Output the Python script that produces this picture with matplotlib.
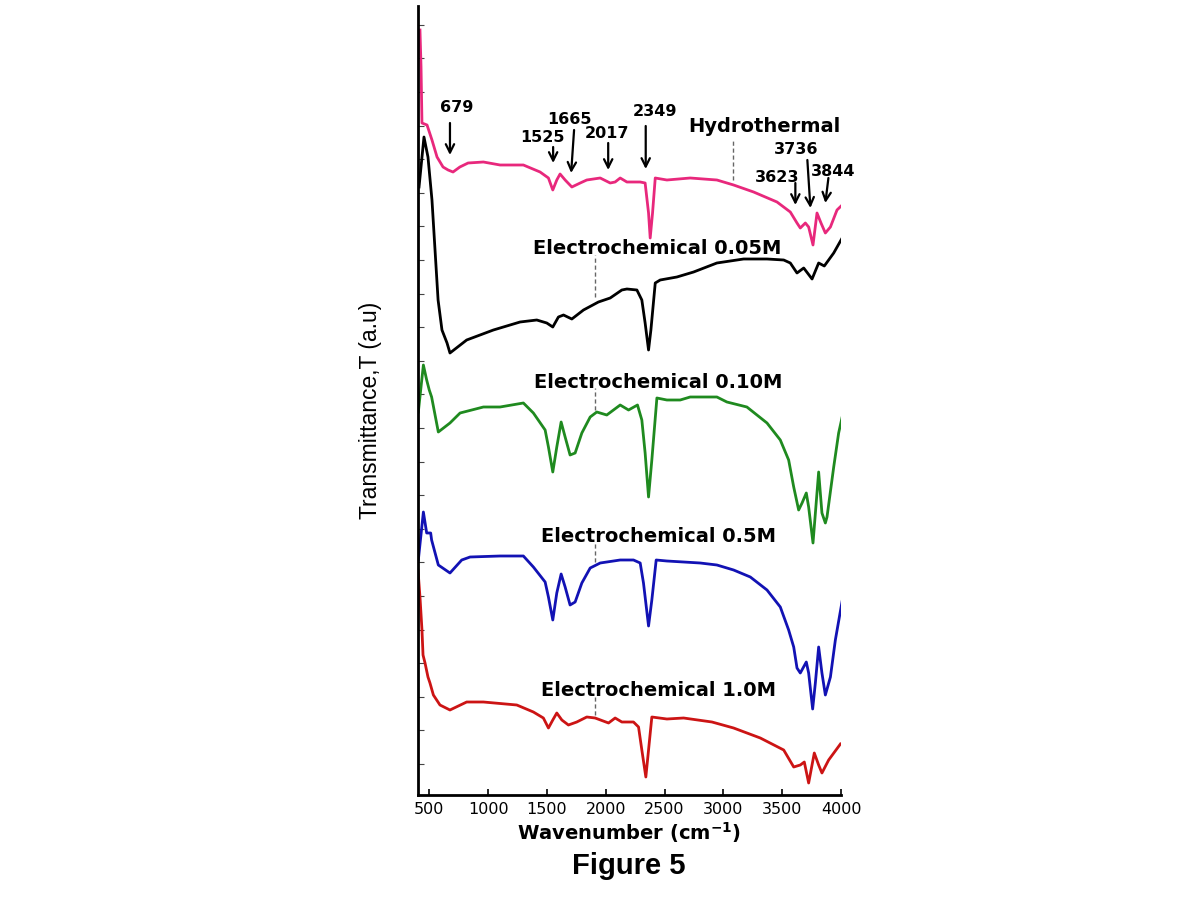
import numpy as np
import matplotlib
matplotlib.use("Agg")
import matplotlib.pyplot as plt

# ---------------- data (wavenumber, transmittance in arbitrary units) ----------------
hydro_w = [421, 430, 438, 481, 523, 566, 617, 660, 702, 760, 830, 960, 1102, 1300, 1442, 1513, 1550, 1584,
           1612, 1655, 1712, 1783, 1839, 1953, 2038, 2080, 2123, 2180, 2293, 2335, 2364, 2378, 2398, 2421,
           2520, 2718, 2945, 3087, 3257, 3456, 3569, 3626, 3654, 3697, 3725, 3762, 3796, 3830, 3867, 3910,
           3966, 4010]
hydro_t = [765, 728, 672, 670, 655, 638, 628, 625, 623, 628, 632, 633, 630, 630, 623, 617, 605, 615,
           621, 615, 608, 612, 615, 617, 612, 613, 617, 613, 613, 612, 582, 557, 582, 617,
           615, 617, 615, 610, 603, 593, 583, 572, 567, 572, 568, 550, 582, 572, 562, 568,
           585, 590]

e005_w = [413, 455, 489, 523, 549, 575, 608, 651, 676, 818, 1045, 1272, 1414, 1499, 1550, 1598, 1641,
          1712, 1811, 1938, 2038, 2137, 2180, 2265, 2307, 2335, 2364, 2384, 2421, 2463, 2605, 2747,
          2945, 3172, 3371, 3513, 3569, 3626, 3683, 3754, 3810, 3858, 3938, 4010]
e005_t = [608, 658, 638, 595, 545, 495, 465, 452, 442, 455, 465, 473, 475, 472, 468, 478, 480,
          476, 485, 493, 497, 505, 506, 505, 495, 472, 445, 465, 512, 515, 518, 523,
          532, 536, 536, 535, 532, 522, 527, 516, 532, 529, 542, 557]

e010_w = [407, 450, 478, 500, 520, 577, 676, 762, 960, 1102, 1300, 1385, 1485, 1513, 1550, 1584, 1621,
          1655, 1697, 1740, 1797, 1868, 1924, 2009, 2123, 2194, 2270, 2307, 2335, 2364, 2392, 2435,
          2520, 2633, 2718, 2945, 3030, 3200, 3371, 3484, 3555, 3598, 3640, 3669, 3705, 3725, 3762,
          3810, 3838, 3867, 3881, 3938, 3980, 4010]
e010_t = [383, 430, 415, 405, 398, 363, 372, 382, 388, 388, 392, 382, 365, 348, 323, 348, 373,
          358, 340, 342, 362, 378, 383, 380, 390, 385, 390, 375, 342, 298, 335, 397,
          395, 395, 398, 398, 393, 388, 372, 355, 335, 308, 285, 292, 302, 288, 252,
          323, 282, 272, 278, 328, 362, 378]

e05_w = [407, 450, 478, 512, 520, 577, 676, 776, 847, 1102, 1300, 1385, 1485, 1513, 1550, 1584, 1621,
         1655, 1697, 1740, 1797, 1868, 1953, 2123, 2236, 2293, 2321, 2364, 2392, 2429, 2520, 2803,
         2945, 3087, 3229, 3371, 3484, 3555, 3598, 3626, 3654, 3705, 3725, 3759, 3782, 3810, 3838,
         3867, 3910, 3952, 4010]
e05_t = [235, 283, 262, 262, 255, 230, 222, 235, 238, 239, 239, 228, 213, 198, 175, 202, 221,
         208, 190, 193, 212, 227, 232, 235, 235, 232, 212, 169, 195, 235, 234, 232,
         230, 225, 218, 205, 188, 165, 148, 127, 122, 133, 122, 86, 112, 148, 122,
         100, 118, 155, 194]

e10_w = [404, 421, 438, 447, 464, 489, 506, 535, 591, 676, 818, 960, 1244, 1385, 1470, 1513, 1550,
         1584, 1627, 1683, 1754, 1839, 1910, 2024, 2080, 2137, 2236, 2279, 2307, 2341, 2364, 2392,
         2520, 2662, 2903, 3087, 3314, 3513, 3598, 3654, 3688, 3725, 3773, 3810, 3838, 3895, 3995]
e10_t = [225, 198, 165, 140, 132, 118, 112, 100, 90, 85, 93, 93, 90, 83, 77, 67, 75,
         82, 75, 70, 73, 78, 77, 72, 77, 73, 73, 68, 45, 18, 45, 78,
         76, 77, 73, 67, 57, 45, 28, 30, 33, 12, 42, 30, 22, 35, 51]

series_names = ["Hydrothermal", "Electrochemical 0.05M", "Electrochemical 0.10M",
                "Electrochemical 0.5M", "Electrochemical 1.0M"]
series_colors = ["#e8287c", "#000000", "#1f8a1f", "#1212b4", "#cc1414"]

# peak annotations (label, arrow tail, arrow head, text position)
peak_labels = ["679", "1525", "1665", "2017", "2349", "3736", "3623", "3844"]
peak_text_xy = [(736, 687), (1459, 658), (1689, 676), (2012, 662), (2421, 683), (3620, 645), (3458, 618), (3935, 623)]
peak_tail_xy = [(676, 672), (1553, 648), (1731, 665), (2021, 652), (2340, 669), (3714, 635), (3612, 612), (3893, 617)]
peak_head_xy = [(676, 640), (1553, 632), (1706, 622), (2021, 625), (2340, 626), (3740, 587), (3612, 590), (3867, 592)]

# sample labels with dashed markers
label_xy = [(3349, 669), (2436, 547), (2446, 413), (2446, 259), (2446, 105)]
dash_x = [3084, 1910, 1910, 1910, 1910]
dash_y = [(615, 655), (498, 540), (385, 407), (233, 252), (80, 98)]

xticks = [500, 1000, 1500, 2000, 2500, 3000, 3500, 4000]

# ---------------- figure ----------------
fig = plt.figure(figsize=(12, 9), dpi=100)
ax = fig.add_axes([417.5 / 1200, 1 - 795 / 900, (841 - 417.5) / 1200, 789 / 900])

curves = [(hydro_w, hydro_t), (e005_w, e005_t), (e010_w, e010_t), (e05_w, e05_t), (e10_w, e10_t)]
for (w, t), c in zip(curves, series_colors):
    ax.plot(w, t, color=c, lw=2.0, solid_joinstyle="round")

ax.set_xlim(400, 4000)
ax.set_ylim(0, 789)
ax.set_xticks(xticks)
ax.set_xticklabels([str(v) for v in xticks], fontsize=11.5, family="DejaVu Sans")
ax.set_yticks([31 + 33.6 * k for k in range(23)])
ax.set_yticklabels([])
ax.tick_params(axis="x", direction="in", length=4, width=1.2, pad=5)
ax.tick_params(axis="y", direction="in", length=4, width=0.8, color="#444444")
for s in ["top", "right"]:
    ax.spines[s].set_visible(False)
for s in ["left", "bottom"]:
    ax.spines[s].set_linewidth(2.0)

ax.set_xlabel("Wavenumber (cm$^{\\mathbf{-1}}$)", fontsize=14, fontweight="bold", family="DejaVu Sans", labelpad=2)
ax.set_ylabel("Transmittance,T (a.u)", fontsize=16.5, family="Liberation Sans")
ax.yaxis.set_label_coords(-0.083, 0.488)

for lab, txy, tail, head in zip(peak_labels, peak_text_xy, peak_tail_xy, peak_head_xy):
    ax.text(txy[0], txy[1], lab, ha="center", va="center", fontsize=11.5, fontweight="bold", family="DejaVu Sans")
    ax.annotate("", xy=head, xytext=tail,
                arrowprops=dict(arrowstyle="->,head_length=0.6,head_width=0.3", lw=1.6, color="black",
                                shrinkA=0, shrinkB=0))

for name, (lx, ly), dx, (y0, y1) in zip(series_names, label_xy, dash_x, dash_y):
    ax.text(lx, ly, name, ha="center", va="center", fontsize=14, fontweight="bold", family="DejaVu Sans")
    ax.plot([dx, dx], [y0, y1], color="#666666", lw=1.0, ls=(0, (3, 2)))

fig.text(629 / 1200, 1 - 866 / 900, "Figure 5", ha="center", va="center", fontsize=21,
         fontweight="bold", family="Liberation Sans")

fig.savefig("out.png", dpi=100)
